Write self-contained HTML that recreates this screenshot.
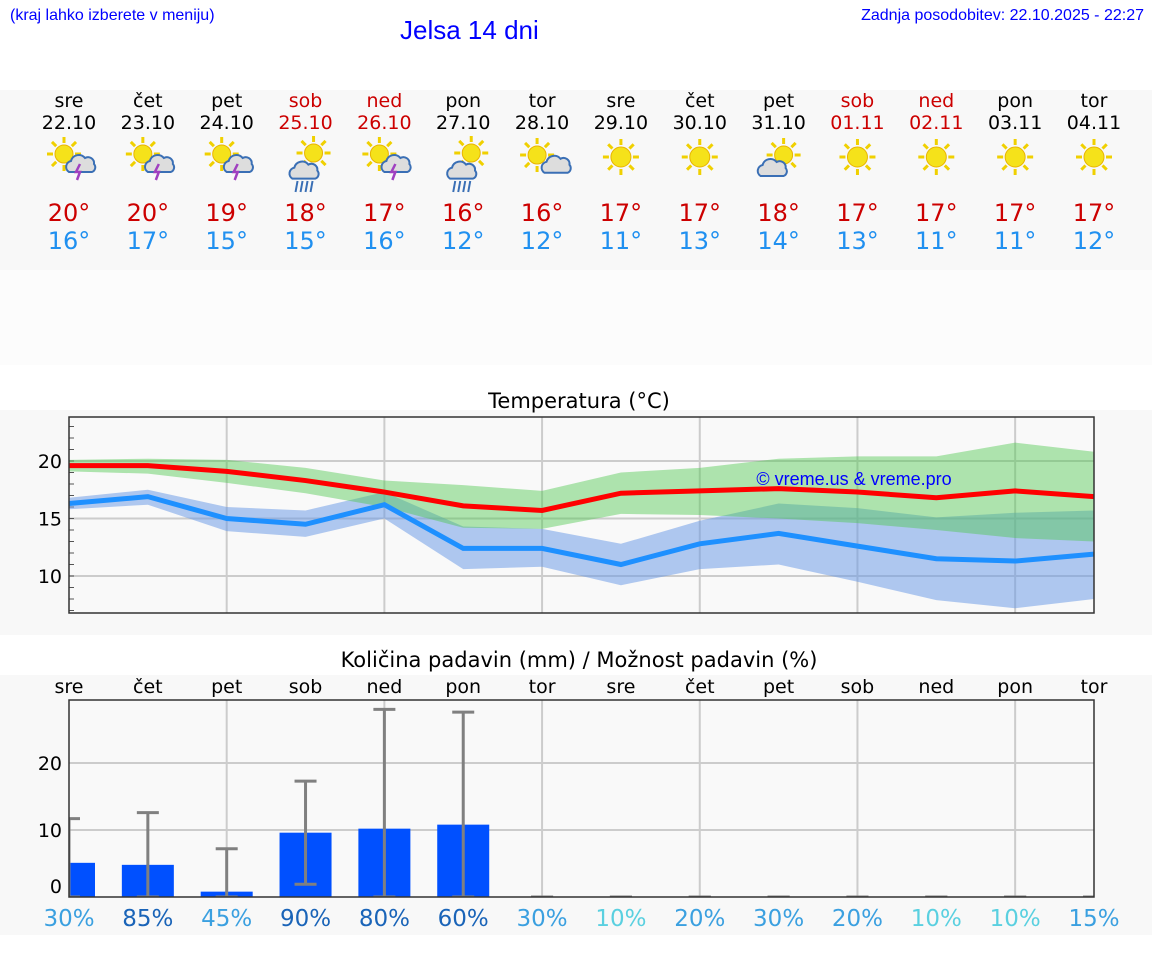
<!DOCTYPE html>
<html><head><meta charset="utf-8"><style>
body{margin:0;width:1152px;height:975px;background:#fff;font-family:"DejaVu Sans","Liberation Sans",sans-serif;overflow:hidden;position:relative}
.abs{position:absolute}
</style></head><body>
<div class="abs" style="left:10px;top:7px;font:16px 'Liberation Sans',sans-serif;color:#00f">(kraj lahko izberete v meniju)</div>
<div class="abs" style="left:400px;top:15px;font:26px 'Liberation Sans',sans-serif;color:#00f">Jelsa 14 dni</div>
<div class="abs" style="right:8px;top:7px;font:16px 'Liberation Sans',sans-serif;color:#00f">Zadnja posodobitev: 22.10.2025 - 22:27</div>
<div class="abs" style="left:0;top:90px;width:1152px;height:180px;background:#f8f8f8"></div>
<div class="abs" style="left:0;top:270px;width:1152px;height:95px;background:#fcfcfc"></div>
<div class="abs" style="left:0;top:410px;width:1152px;height:225px;background:#f8f8f8"></div>
<div class="abs" style="left:0;top:675px;width:1152px;height:260px;background:#f8f8f8"></div>
<div id="days"></div>
<svg id="chart" class="abs" style="left:0;top:0" width="1152" height="975"></svg>
<script>
const dayNames=["sre","čet","pet","sob","ned","pon","tor","sre","čet","pet","sob","ned","pon","tor"];
const dates=["22.10","23.10","24.10","25.10","26.10","27.10","28.10","29.10","30.10","31.10","01.11","02.11","03.11","04.11"];
const weekend=[0,0,0,1,1,0,0,0,0,0,1,1,0,0];
const icons=["st","st","st","sr","st","sr2","sc","s","s","cs","s","s","s","s"];
const hiLabels=[20,20,19,18,17,16,16,17,17,18,17,17,17,17];
const loLabels=[16,17,15,15,16,12,12,11,13,14,13,11,11,12];
const tMax=[19.6,19.6,19.1,18.3,17.3,16.1,15.7,17.2,17.4,17.6,17.3,16.8,17.4,16.9];
const tMaxHi=[20.1,20.2,20.1,19.4,18.3,17.9,17.4,19.0,19.4,20.2,20.4,20.4,21.6,20.8];
const tMaxLo=[19.1,18.9,18.1,17.2,16.0,14.2,14.1,15.4,15.3,15.0,14.6,14.0,13.3,13.0];
const tMin=[16.3,16.9,15.0,14.5,16.2,12.4,12.4,11.0,12.8,13.7,12.6,11.5,11.3,11.9];
const tMinHi=[16.8,17.5,16.0,15.7,17.3,14.3,14.1,12.8,14.8,16.3,15.9,15.1,15.5,15.7];
const tMinLo=[15.8,16.2,13.9,13.4,15.0,10.6,10.8,9.2,10.6,11.0,9.5,7.9,7.2,8.0];
const tTicks=[10,15,20];
const rain=[5.1,4.8,0.8,9.6,10.2,10.8,0,0,0,0,0,0,0,0];
const rainHi=[11.7,12.6,7.2,17.3,28.0,27.6,0,0,0,0,0,0,0,0];
const rainLo=[0,0,0,1.9,0,0,0,0,0,0,0,0,0,0];
const rTicks=[0,10,20];
const pct=[30,85,45,90,80,60,30,10,20,30,20,10,10,15];

const NS="http://www.w3.org/2000/svg";
const svg=document.getElementById('chart');
const X=i=>69+i*(1094-69)/13;
const TY=v=>461-(v-20)*11.5;
const RY=v=>897-v*6.7;
function el(tag,attrs,parent){const e=document.createElementNS(NS,tag);for(const k in attrs)e.setAttribute(k,attrs[k]);(parent||svg).appendChild(e);return e;}
function txt(x,y,s,size,fill,anchor){const t=el('text',{x:x,y:y,'font-size':size,fill:fill,'text-anchor':anchor||'middle','font-family':'DejaVu Sans, Liberation Sans, sans-serif'});t.textContent=s;return t;}

function sun(g,cx,cy,r){for(let a=0;a<360;a+=45){const rad=a*Math.PI/180;el('line',{x1:cx+Math.cos(rad)*(r+2),y1:cy+Math.sin(rad)*(r+2),x2:cx+Math.cos(rad)*(r+8),y2:cy+Math.sin(rad)*(r+8),stroke:'#f0d000','stroke-width':3},g);}el('circle',{cx:cx,cy:cy,r:r,fill:'#f5e21a',stroke:'#e8b400','stroke-width':1},g);}
function cloud(g,cx,cy,s){el('path',{d:`M${cx-12*s},${cy+6*s} a6 6 0 0 1 2,-11 a8 8 0 0 1 14,-3 a6 6 0 0 1 9,6 a5 5 0 0 1 -2,8 z`,fill:'#ddd',stroke:'#3a6fb5','stroke-width':2},g);}
for(let i=0;i<14;i++){
  const x=X(i);const col=weekend[i]?'#c00':'#000';
  const d=txt(x,107,dayNames[i],19,col);
  
  const dt=txt(x,129,dates[i],19,col);
  
  const g=el('g',{});
  
  
  const k=icons[i];
  if(k==='s'){sun(g,x,157,10);}
  else if(k==='st'){sun(g,x-5,154,9);cloud(g,x+12,166,1);el('path',{d:`M${x+11},${164} l-4,8 h4 l-3,8`,stroke:'#a040c0','stroke-width':2.5,fill:'none'},g);}
  else if(k==='sr'||k==='sr2'){sun(g,x+8,153,9);cloud(g,x,172,1.1);for(let j=0;j<4;j++)el('line',{x1:x-8+j*5,y1:181,x2:x-10+j*5,y2:192,stroke:'#3a6fb5','stroke-width':2},g);}
  else if(k==='sc'){sun(g,x-5,155,9);cloud(g,x+12,168,0.8);}
  else if(k==='cs'){sun(g,x+5,155,9);cloud(g,x-6,170,1);}
  const h=txt(x,221,hiLabels[i]+'°',24,'#c00');
  
  const l=txt(x,249,loLabels[i]+'°',24,'#2090f0');
  
}

const tt=txt(579,408,'Temperatura (°C)',21,'#000');

const cg=el('g',{});
el('rect',{x:69,y:417,width:1025,height:196,fill:'#f9f9f9'},cg);
for(const v of tTicks){el('line',{x1:69,x2:1094,y1:TY(v),y2:TY(v),stroke:'#ccc','stroke-width':2});const t=txt(62,TY(v)+7,String(v),19,'#000','end');}
for(let v=7;v<=23;v++){el('line',{x1:69,x2:74,y1:TY(v),y2:TY(v),stroke:'#555','stroke-width':1});}
for(let i=2;i<14;i+=2){el('line',{x1:X(i),x2:X(i),y1:417,y2:613,stroke:'#ccc','stroke-width':2});}
function band(hi,lo,fill,name){let d='M'+hi.map((v,i)=>X(i)+','+TY(v)).join(' L');d+=' L'+lo.map((v,i)=>X(i)+','+TY(v)).reverse().join(' L')+' Z';const p=el('path',{d:d,fill:fill});}
band(tMinHi,tMinLo,'rgba(100,150,230,0.5)','min-temp-range');
band(tMaxHi,tMaxLo,'rgba(80,200,80,0.45)','max-temp-range');
const pl1=el('polyline',{points:tMin.map((v,i)=>X(i)+','+TY(v)).join(' '),fill:'none',stroke:'#1e90ff','stroke-width':5});

const pl2=el('polyline',{points:tMax.map((v,i)=>X(i)+','+TY(v)).join(' '),fill:'none',stroke:'#ff0000','stroke-width':5});

el('rect',{x:69,y:417,width:1025,height:196,fill:'none',stroke:'#333','stroke-width':1.5});
const wm=el('text',{x:854,y:485,'font-size':18,fill:'#00f','text-anchor':'middle','font-family':'Liberation Sans, sans-serif'});wm.textContent='© vreme.us & vreme.pro';


const pt=txt(579,667,'Količina padavin (mm) / Možnost padavin (%)',21,'#000');

el('rect',{x:69,y:700,width:1025,height:197,fill:'#f9f9f9'});
for(let i=0;i<14;i++){const t=txt(X(i),693,dayNames[i],19,'#000');}
for(const v of rTicks){if(v>0)el('line',{x1:69,x2:1094,y1:RY(v),y2:RY(v),stroke:'#ccc','stroke-width':2});const t=txt(62,RY(v)+(v?7:-4),String(v),19,'#000','end');}
for(let i=2;i<14;i+=2){el('line',{x1:X(i),x2:X(i),y1:700,y2:897,stroke:'#ccc','stroke-width':2});}
const ps=el('svg',{x:69,y:700,width:1025,height:197,overflow:'hidden'});
for(let i=0;i<14;i++){
  const x=X(i)-69;
  if(rain[i]>0){const b=el('rect',{x:x-26,y:RY(rain[i])-700,width:52,height:rain[i]*6.7,fill:'#0050ff'},ps);}
  const eg=el('g',{stroke:'#808080','stroke-width':3},ps);
  
  el('line',{x1:x,x2:x,y1:RY(rainLo[i])-700,y2:RY(rainHi[i])-700},eg);
  el('line',{x1:x-11,x2:x+11,y1:RY(rainHi[i])-700,y2:RY(rainHi[i])-700},eg);
  el('line',{x1:x-11,x2:x+11,y1:RY(rainLo[i])-700,y2:RY(rainLo[i])-700},eg);
}
el('rect',{x:69,y:700,width:1025,height:197,fill:'none',stroke:'#333','stroke-width':1.5});
for(let i=0;i<14;i++){const p=pct[i];const c=p>=60?'#1a64b8':(p<=10?'#5ad0e0':'#3ba0e0');const t=txt(X(i),926,p+'%',23,c);}
</script>
</body></html>
